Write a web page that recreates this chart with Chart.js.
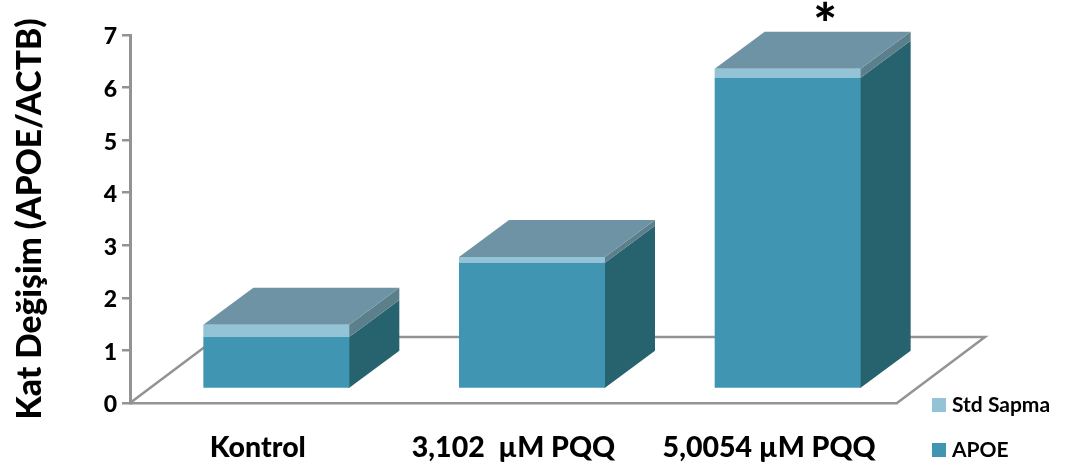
<!DOCTYPE html>
<html>
<head>
<meta charset="utf-8">
<style>
    html, body { margin: 0; padding: 0; background: #fff; }
    canvas { display: block; }
</style>
<script src="https://cdn.jsdelivr.net/npm/chart.js@4"></script>
</head>
<body>
<canvas id="myChart" width="1073" height="468"></canvas>
<script>
const categories = ["Kontrol", "3,102  µM PQQ", "5,0054 µM PQQ"];
const apoeValues = [0.99, 2.4, 5.92];
const stdValues = [0.23, 0.11, 0.17];
const yTicks = [0, 1, 2, 3, 4, 5, 6, 7];
const starred = ["5,0054 µM PQQ"];

const fontName = "Lato, 'Open Sans', sans-serif";
const axisGrey = "#939393";

// oblique offsets of the fake 3D box
const depthX = 50, depthY = -37;
const floorX = 88, floorY = -66;
const frontX = 18.5, frontY = -14;

function poly(ctx, pts, color){
    ctx.fillStyle = color;
    ctx.beginPath();
    ctx.moveTo(pts[0][0], pts[0][1]);
    for(let i = 1; i < pts.length; i++){
        ctx.lineTo(pts[i][0], pts[i][1]);
    }
    ctx.closePath();
    ctx.fill();
}

// floor outline, box sides and lids around the regular bars
const boxes = {
    id: "boxes",
    afterLayout(chart){
        // digits sit a little low against their tick marks
        chart.scales.y.getLabelItems().forEach(function(item){
            item.options.translation[1] += 2;
        });
    },
    beforeDatasetsDraw(chart){
        const ctx = chart.ctx;
        const area = chart.chartArea;
        ctx.save();
        ctx.strokeStyle = axisGrey;
        ctx.lineWidth = 2.5;
        ctx.beginPath();
        ctx.moveTo(area.left, area.bottom);
        ctx.lineTo(area.left + floorX, area.bottom + floorY);
        ctx.lineTo(area.right + floorX, area.bottom + floorY);
        ctx.lineTo(area.right, area.bottom);
        ctx.stroke();
        ctx.restore();

        // the bars stand a bit inside the floor, this save is closed in afterDatasetsDraw
        ctx.save();
        ctx.translate(frontX, frontY);
        let low = chart.getDatasetMeta(0).data;
        let high = chart.getDatasetMeta(1).data;
        for(let i = 0; i < low.length; i++){
            let r = low[i].x + low[i].width / 2;
            let l = low[i].x - low[i].width / 2;
            let base = low[i].base;
            let mid = low[i].y;
            let top = high[i].y;
            // sides start 1px under the front face so the floor line can't show through the seam
            poly(ctx, [[r - 1, base], [r, base], [r + depthX, base + depthY], [r + depthX, mid + depthY], [r, mid], [r - 1, mid]], "#27626f");
            poly(ctx, [[r - 1, mid], [r, mid], [r + depthX, mid + depthY], [r + depthX, top + depthY], [r, top], [r - 1, top]], "#5c7f8c");
            poly(ctx, [[l, top], [l + depthX, top + depthY], [r + depthX, top + depthY], [r, top]], "#6d93a4");
        }
    },
    afterDatasetsDraw(chart){
        chart.ctx.restore();
    },
    afterDraw(chart){
        const ctx = chart.ctx;
        ctx.save();

        // significance mark above the starred bars
        ctx.fillStyle = "#000";
        ctx.textAlign = "center";
        ctx.textBaseline = "alphabetic";
        ctx.font = "900 56px " + fontName;
        let high = chart.getDatasetMeta(1).data;
        for(let i = 0; i < high.length; i++){
            if(starred.includes(categories[i])){
                ctx.fillText("*", high[i].x + frontX + 37.5, 44);
            }
        }

        // legend, last dataset on top
        ctx.textAlign = "left";
        ctx.textBaseline = "middle";
        ctx.font = "bold 21px " + fontName;
        let rows = [[1, 405], [0, 450]];
        rows.forEach(function(row){
            let ds = chart.data.datasets[row[0]];
            ctx.fillStyle = ds.backgroundColor;
            ctx.fillRect(932, row[1] - 7, 14, 14);
            ctx.fillStyle = "#000";
            ctx.fillText(ds.label, 952, row[1]);
        });
        ctx.restore();
    }
};

new Chart(document.getElementById("myChart").getContext("2d"), {
    type: "bar",
    plugins: [boxes],
    data: {
        labels: categories,
        datasets: [
            { label: "APOE", data: apoeValues, backgroundColor: "#4096b2", clip: false },
            { label: "Std Sapma", data: stdValues, backgroundColor: "#92c3d6", clip: false }
        ]
    },
    options: {
        responsive: false,
        animation: false,
        barPercentage: 0.571,
        categoryPercentage: 1,
        layout: { padding: { top: 35, right: 176, left: 10, bottom: 0 } },
        plugins: { legend: { display: false }, tooltip: { enabled: false } },
        scales: {
            x: {
                stacked: true,
                afterFit(scale){ scale.height = 65; },
                grid: { display: false },
                border: { color: axisGrey, width: 2.5 },
                ticks: {
                    color: "#000",
                    padding: 20,
                    maxRotation: 0,
                    font: { family: fontName, size: 28.5, weight: "900" }
                }
            },
            y: {
                stacked: true,
                min: 0,
                max: 7,
                afterFit(scale){ scale.width = 120; },
                afterBuildTicks(scale){ scale.ticks = yTicks.map(function(v){ return { value: v }; }); },
                grid: { drawOnChartArea: false, color: axisGrey, lineWidth: 2.5, tickLength: 8 },
                border: { color: axisGrey, width: 3 },
                ticks: {
                    color: "#000",
                    padding: 5,
                    font: { family: fontName, size: 23, weight: "900" }
                },
                title: {
                    display: true,
                    text: "Kat Değişim (APOE/ACTB)",
                    color: "#000",
                    font: { family: fontName, size: 33.5, weight: "900" },
                    padding: 0
                }
            }
        }
    }
});
</script>
</body>
</html>
